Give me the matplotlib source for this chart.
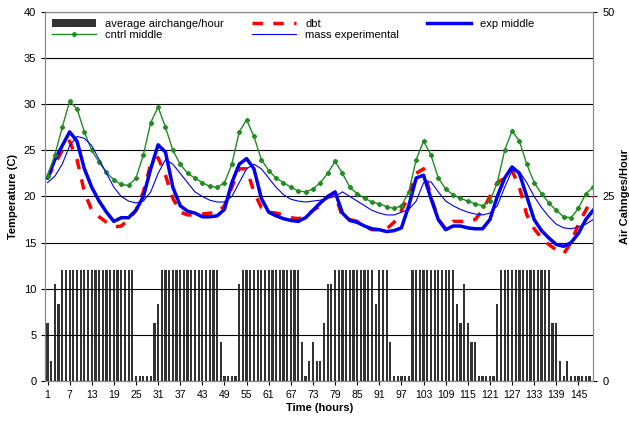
import matplotlib.pyplot as plt
import numpy as np

plt.rcParams['font.family'] = ['Liberation Sans', 'DejaVu Sans']

# air change per hour, hourly (h1..h148), read in left-axis units then scaled to right axis
ach_left = ([6.3, 2.2, 10.5, 8.4] + [12] * 20 + [0.6] * 5 + [6.3, 8.4] + [12] * 16 + [4.2]
            + [0.6] * 4 + [10.5] + [12] * 16 + [4.2, 0.6, 2.2, 4.2, 2.2, 2.2, 6.3, 10.5, 10.5]
            + [12] * 11 + [8.4] + [12] * 3 + [4.2] + [0.6] * 5 + [12] * 12
            + [8.4, 6.3, 10.5, 6.3, 4.2, 4.2] + [0.6] * 5 + [8.4] + [12] * 14
            + [6.3, 6.3, 2.2, 0.6, 2.2] + [0.6] * 6)
hours_bar = np.arange(1, len(ach_left) + 1)
ach = [v * 50 / 40 for v in ach_left]

# temperature series every 2 hours
hours = list(range(1, 150, 2))
dbt = [22, 23.5, 25, 26, 24, 20.5, 18.5, 17.8, 17.2, 16.7, 16.8, 17.5, 18.5, 20.5, 23.5, 24.2,
       22.3, 19.8, 18.3, 18, 18, 18.1, 18.2, 18.2, 19, 21, 23, 23, 20.5, 18.8, 18.3, 18.2, 18,
       17.7, 17.6, 17.8, 18.5, 19, 20, 20.2, 17.8, 17.5, 17.3, 16.8, 16.4, 16.4, 16.5, 17.2, 18.5,
       20, 22.5, 23, 20, 17.5, 16.5, 17.3, 17.3, 17.3, 17.5, 18.5, 20, 21.5, 22, 22.8, 21, 18,
       16.5, 15.5, 14.8, 14.2, 13.8, 15, 17, 18.5, 20]
exp_mid = [22, 24, 25.5, 27, 26, 23, 21, 19.5, 18.3, 17.3, 17.7, 17.7, 18.5, 20, 23, 25.6, 24.8,
           21, 19, 18.4, 18.2, 17.8, 17.8, 17.9, 18.6, 21.5, 23.5, 24.1, 23, 19.8, 18.3, 17.9,
           17.6, 17.4, 17.3, 17.7, 18.5, 19.3, 20, 20.5, 18.2, 17.4, 17.2, 16.8, 16.5, 16.4,
           16.2, 16.3, 16.6, 19, 22, 22.3, 19.8, 17.5, 16.4, 16.8, 16.8, 16.6, 16.5, 16.5, 17.5,
           20, 22, 23.2, 22.5, 20, 17.5, 16.3, 15.5, 14.8, 14.6, 15, 16, 17.5, 18.5]
cntrl_mid = [22.2, 24.5, 27.5, 30.3, 29.5, 27, 25, 23.7, 22.6, 21.8, 21.3, 21.2, 22, 24.5, 28,
             29.7, 27.5, 25, 23.5, 22.5, 22, 21.5, 21.1, 21, 21.5, 23.5, 27, 28.3, 26.5, 24,
             22.8, 22, 21.5, 21, 20.6, 20.5, 20.8, 21.5, 22.5, 23.8, 22.5, 21, 20.3, 19.8, 19.4,
             19.2, 18.9, 18.7, 19, 20.5, 24, 26, 24.5, 22, 20.8, 20.2, 19.8, 19.5, 19.2, 19,
             19.5, 21.5, 25, 27.1, 26, 23.5, 21.5, 20.3, 19.3, 18.5, 17.8, 17.7, 18.7, 20.3, 21]
mass_exp = [21.5, 22.2, 23.5, 25.5, 26.5, 26.3, 25.5, 24, 22.5, 21, 20, 19.5, 19.3, 19.5, 20.5,
            22.5, 24, 23.5, 22.5, 21.5, 20.5, 20, 19.6, 19.4, 19.4, 20, 21.5, 23, 23.5, 23, 22,
            21, 20.2, 19.7, 19.5, 19.4, 19.5, 19.6, 19.8, 20, 20.5, 20, 19.5, 19, 18.5, 18.2, 18,
            18, 18.3, 18.6, 19.5, 21.5, 21.6, 20.5, 19.5, 19, 18.6, 18.3, 18.1, 18, 18.2, 19, 21,
            22.8, 22.7, 21.5, 20, 18.8, 17.8, 17, 16.6, 16.5, 16.7, 17, 17.5]

fig = plt.figure(figsize=(6.29, 4.23), dpi=100)
ax = fig.add_axes([0.072, 0.099, 0.871, 0.873])
ax2 = ax.twinx()

ax.set_ylim(0, 40)
ax.set_yticks(range(0, 41, 5))
ax.grid(axis='y', color='black', linewidth=0.8)
ax.set_axisbelow(True)
ax.set_xlim(0.4, 149)
ax.set_xticks(range(1, 150, 6))

ax2.set_ylim(0, 50)
ax2.set_yticks([0, 25, 50])
b = ax2.bar(hours_bar, ach, width=0.6, color='#333333', label='average airchange/hour')

l1, = ax.plot(hours, dbt, color='red', linestyle=(0, (3, 3)), linewidth=2.5, label='dbt')
l2, = ax.plot(hours, exp_mid, color='#0000ee', linewidth=2.5, label='exp middle')
l3, = ax.plot(hours, cntrl_mid, color='#228B22', linewidth=1, marker='D', markersize=2.2,
              label='cntrl middle')
l4, = ax.plot(hours, mass_exp, color='#0000ee', linewidth=0.8, label='mass experimental')
ax.set_zorder(ax2.get_zorder() + 1)
ax.patch.set_visible(False)

for a in (ax, ax2):
    a.tick_params(labelsize=8, length=3)
    for s in a.spines.values():
        s.set_color('#888888')
ax.tick_params(axis='x', labelsize=7.5)

ax.set_xlabel('Time (hours)', fontsize=8, fontweight='bold', labelpad=2)
ax.set_ylabel('Temperature (C)', fontsize=8, fontweight='bold')
ax2.set_ylabel('Air Cahnges/Hour', fontsize=8, fontweight='bold')

# legend fills column-wise: order so rows read avg/dbt/exp then cntrl/mass
ax.legend([b, l3, l1, l4, l2],
          ['average airchange/hour', 'cntrl middle', 'dbt', 'mass experimental', 'exp middle'],
          loc='upper left', ncol=3, frameon=False, fontsize=8, handlelength=4,
          columnspacing=2.5, borderaxespad=0.2, labelspacing=0.1)

fig.savefig('out.png', dpi=100)
